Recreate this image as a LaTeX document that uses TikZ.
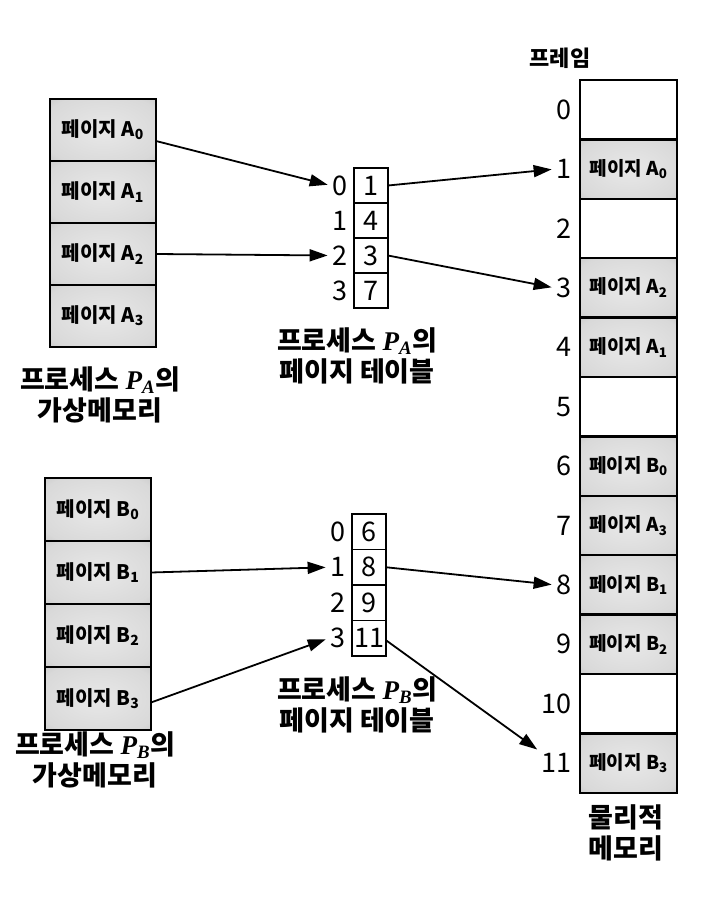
\documentclass[tikz,border=0pt]{standalone}
\usepackage{fontspec}
\setmainfont{Noto Sans CJK KR}
\newfontfamily\procfont{Liberation Serif}
\usetikzlibrary{arrows.meta}
\pgfdeclareradialshading{pageshade}{\pgfpoint{0bp}{0bp}}{color(0bp)=(gray!18); color(30bp)=(gray!30); color(50bp)=(gray!62); color(70bp)=(gray!72)}
\newcommand{\proc}[1]{{\procfont\bfseries\itshape P\textsubscript{#1}}}
\newcommand{\pg}[2]{페이지 #1\textsubscript{#2}}
\begin{document}
\begin{tikzpicture}[x=1pt, y=-1pt,
  pagecell/.style={draw, line width=2.4pt, shade, shading=pageshade, minimum width=106pt, minimum height=62pt, inner sep=0pt, outer sep=0pt, font=\fontsize{20}{22}\selectfont\bfseries},
  framecell/.style={draw, line width=2.4pt, fill=white, minimum width=97pt, minimum height=59.4pt, inner sep=0pt, outer sep=0pt, font=\fontsize{19}{21}\selectfont\bfseries},
  usedframe/.style={framecell, shade, shading=pageshade},
  tabcell/.style={draw, line width=1.5pt, fill=white, minimum width=34pt, minimum height=35pt, inner sep=0pt, outer sep=0pt, font=\fontsize{27}{29}\selectfont},
  idx/.style={anchor=east, inner sep=2pt, font=\fontsize{27}{29}\selectfont},
  caption/.style={align=center, font=\fontsize{27}{31}\selectfont\bfseries},
  map/.style={-{Triangle[length=18pt,width=12pt]}, line width=1.8pt, shorten >=3pt}]
  \useasboundingbox[fill=white] (0,0) rectangle (721,907);

  % Virtual memory of process A
  \node[pagecell] (va0) at (103,130) {\pg{A}{0}};
  \node[pagecell] (va1) at (103,192) {\pg{A}{1}};
  \node[pagecell] (va2) at (103,254) {\pg{A}{2}};
  \node[pagecell] (va3) at (103,316) {\pg{A}{3}};
  \node[caption] (vaname) at (100,395) {프로세스 \proc{A}의\\가상메모리};

  % Virtual memory of process B
  \node[pagecell, minimum height=63pt] (vb0) at (98,509.5) {\pg{B}{0}};
  \node[pagecell, minimum height=63pt] (vb1) at (98,572.5) {\pg{B}{1}};
  \node[pagecell, minimum height=63pt] (vb2) at (98,635.5) {\pg{B}{2}};
  \node[pagecell, minimum height=63pt] (vb3) at (98,698.5) {\pg{B}{3}};
  \node[caption] (vbname) at (95,760) {프로세스 \proc{B}의\\가상메모리};

  % Page table of process A
  \node[tabcell] (ta0) at (371,185.5) {1};
  \node[tabcell] (ta1) at (371,220.5) {4};
  \node[tabcell] (ta2) at (371,255.5) {3};
  \node[tabcell] (ta3) at (371,290.5) {7};
  \node[idx] (ia0) at ([xshift=-4pt]ta0.west) {0};
  \node[idx] (ia1) at ([xshift=-4pt]ta1.west) {1};
  \node[idx] (ia2) at ([xshift=-4pt]ta2.west) {2};
  \node[idx] (ia3) at ([xshift=-4pt]ta3.west) {3};
  \node[caption] (taname) at (357,356) {프로세스 \proc{A}의\\페이지 테이블};

  % Page table of process B
  \node[tabcell, minimum height=35.5pt] (tb0) at (369,531.75) {6};
  \node[tabcell, minimum height=35.5pt] (tb1) at (369,567.25) {8};
  \node[tabcell, minimum height=35.5pt] (tb2) at (369,602.75) {9};
  \node[tabcell, minimum height=35.5pt] (tb3) at (369,638.25) {11};
  \node[idx] (ib0) at ([xshift=-4pt]tb0.west) {0};
  \node[idx] (ib1) at ([xshift=-4pt]tb1.west) {1};
  \node[idx] (ib2) at ([xshift=-4pt]tb2.west) {2};
  \node[idx] (ib3) at ([xshift=-4pt]tb3.west) {3};
  \node[caption] (tbname) at (357,705) {프로세스 \proc{B}의\\페이지 테이블};

  % Physical memory frames
  \node[font=\fontsize{22}{24}\selectfont\bfseries] (framehead) at (560,58) {프레임};
  \node[framecell] (f0) at (628.5,109.7) {};
  \node[usedframe] (f1) at (628.5,169.1) {\pg{A}{0}};
  \node[framecell] (f2) at (628.5,228.5) {};
  \node[usedframe] (f3) at (628.5,287.9) {\pg{A}{2}};
  \node[usedframe] (f4) at (628.5,347.3) {\pg{A}{1}};
  \node[framecell] (f5) at (628.5,406.7) {};
  \node[usedframe] (f6) at (628.5,466.1) {\pg{B}{0}};
  \node[usedframe] (f7) at (628.5,525.5) {\pg{A}{3}};
  \node[usedframe] (f8) at (628.5,584.9) {\pg{B}{1}};
  \node[usedframe] (f9) at (628.5,644.3) {\pg{B}{2}};
  \node[framecell] (f10) at (628.5,703.7) {};
  \node[usedframe] (f11) at (628.5,763.1) {\pg{B}{3}};
  \node[idx] (fn0) at ([xshift=-6pt]f0.west) {0};
  \node[idx] (fn1) at ([xshift=-6pt]f1.west) {1};
  \node[idx] (fn2) at ([xshift=-6pt]f2.west) {2};
  \node[idx] (fn3) at ([xshift=-6pt]f3.west) {3};
  \node[idx] (fn4) at ([xshift=-6pt]f4.west) {4};
  \node[idx] (fn5) at ([xshift=-6pt]f5.west) {5};
  \node[idx] (fn6) at ([xshift=-6pt]f6.west) {6};
  \node[idx] (fn7) at ([xshift=-6pt]f7.west) {7};
  \node[idx] (fn8) at ([xshift=-6pt]f8.west) {8};
  \node[idx] (fn9) at ([xshift=-6pt]f9.west) {9};
  \node[idx] (fn10) at ([xshift=-6pt]f10.west) {10};
  \node[idx] (fn11) at ([xshift=-6pt]f11.west) {11};
  \node[caption] (pmname) at (626,833) {물리적\\메모리};

  % Page to table entry
  \draw[map] ([yshift=-11pt]va0.east) -- (ia0.west);
  \draw[map] (va2.east) -- (ia2.west);
  \draw[map] (vb1.east) -- (ib1.west);
  \draw[map] ([yshift=-4pt]vb3.east) -- (ib3.west);

  % Table entry to frame
  \draw[map] (ta0.east) -- (fn1.west);
  \draw[map] (ta2.east) -- (fn3.west);
  \draw[map] (tb1.east) -- (fn8.west);
  \draw[map] ([yshift=-2pt]tb3.east) -- (fn11.north west);
\end{tikzpicture}
\end{document}
